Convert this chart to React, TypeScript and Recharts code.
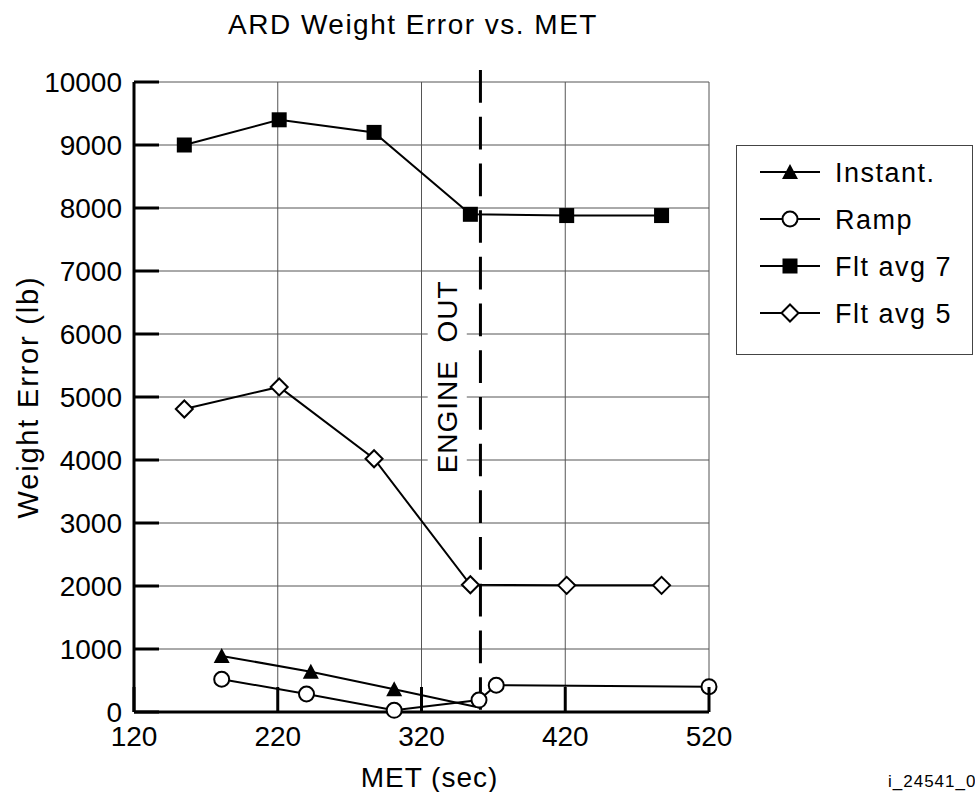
import React from "react";
import {
  LineChart,
  Line,
  XAxis,
  YAxis,
  CartesianGrid,
  Legend,
  ReferenceLine,
  ReferenceArea,
} from "recharts";

// MET (sec) on x, weight error (lb) on y
const metTicks = [120, 220, 320, 420, 520];
const errorTicks = [0, 1000, 2000, 3000, 4000, 5000, 6000, 7000, 8000, 9000, 10000];

const instantMet = [181, 243, 301, 360];
const instantError = [890, 640, 360, 70];

const rampMet = [181, 240, 301, 360, 372, 520];
const rampError = [520, 286, 27, 190, 425, 402];

const fltAvgMet = [155, 221, 287, 354, 421, 487];
const fltAvg7Error = [9000, 9400, 9200, 7900, 7880, 7880];
const fltAvg5Error = [4810, 5160, 4020, 2020, 2010, 2010];

const engineOutMet = 361;

const seriesNames = ["Instant.", "Ramp", "Flt avg 7", "Flt avg 5"];

const FONT = '"Liberation Sans", Arial, Helvetica, sans-serif';

const toPoints = (met: number[], err: number[]) =>
  met.map((m, i) => ({ met: m, error: err[i] }));

type Shape = "triangle" | "circle" | "square" | "diamond";

const markerFor: Record<string, Shape> = {
  "Instant.": "triangle",
  Ramp: "circle",
  "Flt avg 7": "square",
  "Flt avg 5": "diamond",
};

const Marker = ({ shape, cx, cy }: { shape: Shape; cx: number; cy: number }) => {
  switch (shape) {
    case "triangle":
      return (
        <polygon
          points={`${cx},${cy - 8} ${cx - 8},${cy + 7} ${cx + 8},${cy + 7}`}
          fill="#000"
        />
      );
    case "circle":
      return <circle cx={cx} cy={cy} r={7.5} fill="#fff" stroke="#000" strokeWidth={2} />;
    case "square":
      return <rect x={cx - 7.5} y={cy - 7.5} width={15} height={15} fill="#000" />;
    default:
      return (
        <polygon
          points={`${cx},${cy - 8.5} ${cx + 8.5},${cy} ${cx},${cy + 8.5} ${cx - 8.5},${cy}`}
          fill="#fff"
          stroke="#000"
          strokeWidth={2}
        />
      );
  }
};

// last Instant point sits under a Ramp circle with no marker of its own
const makeDot = (shape: Shape, hideIndex = -1) => (props: any) => {
  const { cx, cy, index } = props;
  if (index === hideIndex || cx == null || cy == null) return <g key={`dot-${index}`} />;
  return (
    <g key={`dot-${index}`}>
      <Marker shape={shape} cx={cx} cy={cy} />
    </g>
  );
};

const YTick = (props: any) => {
  const { x, y, payload } = props;
  const axisX = x + 12;
  return (
    <g>
      <line x1={axisX} x2={axisX + 25} y1={y} y2={y} stroke="#000" strokeWidth={3} />
      <text x={x} y={y} dy="0.36em" textAnchor="end" fontSize={28} fill="#000" fontFamily={FONT}>
        {payload.value}
      </text>
    </g>
  );
};

const XTick = (props: any) => {
  const { x, y, payload } = props;
  const axisY = y - 14;
  return (
    <g>
      <line x1={x} x2={x} y1={axisY} y2={axisY - 25} stroke="#000" strokeWidth={3} />
      <text x={x} y={y} dy="0.71em" textAnchor="middle" fontSize={28} fill="#000" fontFamily={FONT}>
        {payload.value}
      </text>
    </g>
  );
};

const renderLegend = () => (
  <svg width={233} height={206} style={{ display: "block" }}>
    {seriesNames.map((name, i) => {
      const y = 26 + i * 47;
      return (
        <g key={name}>
          <line x1={23} x2={83} y1={y} y2={y} stroke="#000" strokeWidth={2} />
          <Marker shape={markerFor[name]} cx={53} cy={y} />
          <text
            x={98}
            y={y}
            dy="0.36em"
            fontSize={27}
            letterSpacing={1.5}
            fill="#000"
            fontFamily={FONT}
          >
            {name}
          </text>
        </g>
      );
    })}
  </svg>
);

const App: React.FC = () => {
  return (
    <div
      style={{
        position: "absolute",
        left: 0,
        top: 0,
        width: 975,
        height: 792,
        background: "#fff",
        fontFamily: FONT,
        overflow: "hidden",
      }}
    >
      <LineChart
        width={975}
        height={792}
        margin={{ top: 82, right: 266, bottom: 0, left: 0 }}
      >
        <CartesianGrid stroke="#555" strokeWidth={1} />
        <XAxis
          type="number"
          dataKey="met"
          domain={[120, 520]}
          ticks={metTicks}
          interval={0}
          height={80}
          axisLine={{ stroke: "#000", strokeWidth: 3 }}
          tickLine={false}
          tickSize={0}
          tickMargin={14}
          tick={(p: any) => <XTick {...p} />}
          label={(p: any) => {
            const vb = p.viewBox;
            return (
              <text
                x={vb.x + vb.width / 2 + 8}
                y={vb.y + 75}
                textAnchor="middle"
                fontSize={28}
                letterSpacing={1}
                fill="#000"
                fontFamily={FONT}
              >
                MET (sec)
              </text>
            );
          }}
        />
        <YAxis
          type="number"
          domain={[0, 10000]}
          ticks={errorTicks}
          interval={0}
          width={134}
          axisLine={{ stroke: "#000", strokeWidth: 3 }}
          tickLine={false}
          tickSize={0}
          tickMargin={12}
          tick={(p: any) => <YTick {...p} />}
          label={(p: any) => {
            const vb = p.viewBox;
            const cx = vb.x + 28;
            const cy = vb.y + vb.height / 2;
            return (
              <text
                x={cx}
                y={cy}
                dy="0.36em"
                transform={`rotate(-90 ${cx} ${cy})`}
                textAnchor="middle"
                fontSize={29}
                letterSpacing={1.8}
                fill="#000"
                fontFamily={FONT}
              >
                Weight Error (lb)
              </text>
            );
          }}
        />
        <ReferenceArea
          x1={324.3}
          x2={351.5}
          y1={3750}
          y2={6890}
          fill="#fff"
          fillOpacity={1}
          stroke="none"
          ifOverflow="visible"
          label={(p: any) => {
            const vb = p.viewBox;
            const cx = vb.x + vb.width / 2;
            const cy = vb.y + vb.height / 2;
            return (
              <text
                x={cx}
                y={cy}
                dy="0.36em"
                transform={`rotate(-90 ${cx} ${cy})`}
                textAnchor="middle"
                fontSize={28}
                letterSpacing={1}
                fill="#000"
                fontFamily={FONT}
              >
                {"ENGINE\u00a0\u00a0OUT"}
              </text>
            );
          }}
        />
        <ReferenceLine
          segment={[
            { x: engineOutMet, y: 10190 },
            { x: engineOutMet, y: 0 },
          ]}
          stroke="#000"
          strokeWidth={3}
          strokeDasharray="32.7 14"
          ifOverflow="visible"
        />
        <Line
          data={toPoints(instantMet, instantError)}
          dataKey="error"
          name="Instant."
          stroke="#000"
          strokeWidth={2}
          dot={makeDot("triangle", instantMet.length - 1)}
          activeDot={false}
          isAnimationActive={false}
        />
        <Line
          data={toPoints(rampMet, rampError)}
          dataKey="error"
          name="Ramp"
          stroke="#000"
          strokeWidth={2}
          dot={makeDot("circle")}
          activeDot={false}
          isAnimationActive={false}
        />
        <Line
          data={toPoints(fltAvgMet, fltAvg7Error)}
          dataKey="error"
          name="Flt avg 7"
          stroke="#000"
          strokeWidth={2}
          dot={makeDot("square")}
          activeDot={false}
          isAnimationActive={false}
        />
        <Line
          data={toPoints(fltAvgMet, fltAvg5Error)}
          dataKey="error"
          name="Flt avg 5"
          stroke="#000"
          strokeWidth={2}
          dot={makeDot("diamond")}
          activeDot={false}
          isAnimationActive={false}
        />
        <Legend
          layout="vertical"
          align="center"
          verticalAlign="middle"
          content={renderLegend}
          wrapperStyle={{
            left: 736,
            top: 145,
            width: 237,
            height: 210,
            border: "1.5px solid #444",
            boxSizing: "border-box",
            background: "#fff",
          }}
        />
      </LineChart>
      <svg
        width={975}
        height={792}
        style={{ position: "absolute", left: 0, top: 0, pointerEvents: "none" }}
      >
        <text
          x={413}
          y={34}
          textAnchor="middle"
          fontSize={28}
          letterSpacing={1.5}
          fill="#000"
          fontFamily={FONT}
        >
          ARD Weight Error vs. MET
        </text>
        <text x={888} y={787} fontSize={17} letterSpacing={1} fill="#000" fontFamily={FONT}>
          i_24541_02
        </text>
      </svg>
    </div>
  );
};

export default App;
